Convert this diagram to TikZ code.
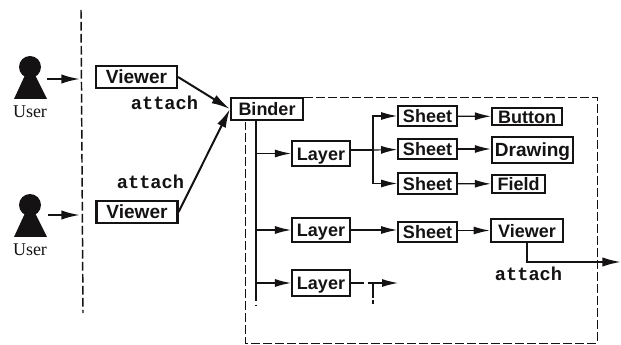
\documentclass[tikz,border=0pt]{standalone}
\usepackage{fontspec}
\setmainfont{Liberation Serif}
\setsansfont{Liberation Sans}
\setmonofont{Liberation Mono}
\usetikzlibrary{arrows.meta, positioning, calc}
\definecolor{ink}{RGB}{20, 18, 18}

\begin{document}
\begin{tikzpicture}[
    x=0.75pt, y=-0.75pt,
    every node/.style={text=ink},
    boxed/.style={draw=ink, line width=1.6pt, fill=white, inner sep=0pt,
      font=\sffamily\bfseries\fontsize{13.5}{15}\selectfont, text height=9.8pt, text depth=0pt},
    largebox/.style={boxed, font=\sffamily\bfseries\fontsize{14.3}{16}\selectfont},
    label/.style={font=\ttfamily\bfseries\fontsize{14}{16}\selectfont, inner sep=0pt},
    username/.style={font=\rmfamily\fontsize{13.5}{15}\selectfont, inner sep=0pt},
    link/.style={draw=ink, line width=0.9pt, -{Latex[length=12pt,width=6pt]}},
    heavy/.style={draw=ink, line width=1.5pt, -{Latex[length=14pt,width=7pt]}},
    region/.style={draw=ink, line width=0.7pt, dash pattern=on 6.5pt off 2.5pt},
  ]
  \useasboundingbox (0,0) rectangle (621,345);

  % users at the left
  \foreach \name/\ypos in {usera/67, userb/205} {
    \fill[ink] (30,\ypos) circle (11);
    \fill[ink] (26,\ypos+6) -- (34,\ypos+6) -- (47,\ypos+32) -- (14,\ypos+32) -- cycle;
    \node[username] (\name) at (30,\ypos+45) {User};
  }
  \draw[region, line width=1.1pt] (81,10) -- (83,313);

  % boxes
  \node[largebox, minimum width=60.75pt, minimum height=16.5pt] (viewera) at (136.5,77) {Viewer};
  \node[largebox, minimum width=60.75pt, minimum height=16.5pt] (viewerb) at (137,212) {Viewer};
  \node[boxed, minimum width=54pt, minimum height=16.5pt] (binder) at (267,109) {Binder};
  \node[boxed, minimum width=43.5pt, minimum height=18.5pt] (layera) at (321,153.5) {Layer};
  \node[boxed, minimum width=43.5pt, minimum height=18pt] (layerb) at (321,230) {Layer};
  \node[boxed, minimum width=43.5pt, minimum height=19pt] (layerc) at (321,283) {Layer};
  \node[boxed, minimum width=44pt, minimum height=14.5pt] (sheeta) at (427.5,116) {Sheet};
  \node[boxed, minimum width=44pt, minimum height=15pt] (sheetb) at (427.5,149) {Sheet};
  \node[boxed, minimum width=44pt, minimum height=15.5pt] (sheetc) at (427.5,183.5) {Sheet};
  \node[boxed, minimum width=44pt, minimum height=15pt] (sheetd) at (427.5,232) {Sheet};
  \node[boxed, minimum width=52.5pt, minimum height=13pt] (button) at (527,116.5) {Button};
  \node[largebox, minimum width=61pt, minimum height=19.5pt] (drawing) at (532.5,150) {Drawing};
  \node[boxed, minimum width=40pt, minimum height=13.5pt] (field) at (518.5,184) {Field};
  \node[boxed, minimum width=54.5pt, minimum height=17pt] (viewerc) at (527,230.5) {Viewer};

  % labels
  \node[label] (attacha) at (164.5,103) {attach};
  \node[label] (attachb) at (150.5,182) {attach};
  \node[label] (attachc) at (528.5,274) {attach};

  % free ends
  \coordinate (gatea) at (80,79);
  \coordinate (gateb) at (80,215);
  \coordinate (trunktop) at (256,120);
  \coordinate (trunkend) at (256,297);
  \coordinate (branch) at (373,150);
  \coordinate (exit) at (621,262);
  \coordinate (stubend) at (364,283);
  \coordinate (stubtop) at (373,283);
  \coordinate (stubhead) at (398,283);

  % outer window
  \draw[region] (binder.east |- 0,97) -- (597,97) -- (597,343) -- (245,343) -- (245,122);

  % connectors
  \draw[heavy] (47,79) -- (gatea);
  \draw[heavy] (48,215) -- (gateb);
  \draw[heavy] (viewera.east) -- (binder.west);
  \draw[heavy] (viewerb.east) -- (binder.west);

  \draw[draw=ink, line width=1.1pt] (trunktop) -- (trunkend);
  \draw[region, line width=1.1pt, dash pattern=on 3pt off 3pt] (trunkend) -- (256,306);
  \draw[link] (trunktop |- layera) -- (layera);
  \draw[link] (trunktop |- layerb) -- (layerb);
  \draw[link] (trunktop |- layerc) -- (layerc);

  \draw[draw=ink, line width=0.9pt] (layera.east |- branch) -- (branch);
  \draw[link] (branch) -- (sheetb);
  \draw[link] (branch) |- (sheeta);
  \draw[link] (branch) |- (sheetc);
  \draw[link] (sheeta) -- (button);
  \draw[link] (sheetb) -- (sheetb -| drawing.west);
  \draw[link] (sheetc) -- (field);
  \draw[link] (layerb) -- (layerb -| sheetd.west);
  \draw[link] (viewerc -| sheetd.east) -- (viewerc);
  \draw[heavy] (viewerc.south) -- (viewerc.south |- exit) -- (exit);

  \draw[draw=ink, line width=0.9pt] (layerc) -- (stubend);
  \draw[link] (368,283) -- (stubhead);
  \draw[draw=ink, line width=0.9pt] (stubtop) -- (373,298);
  \draw[draw=ink, line width=0.9pt, dash pattern=on 3pt off 3pt] (373,300) -- (373,307);
\end{tikzpicture}
\end{document}
